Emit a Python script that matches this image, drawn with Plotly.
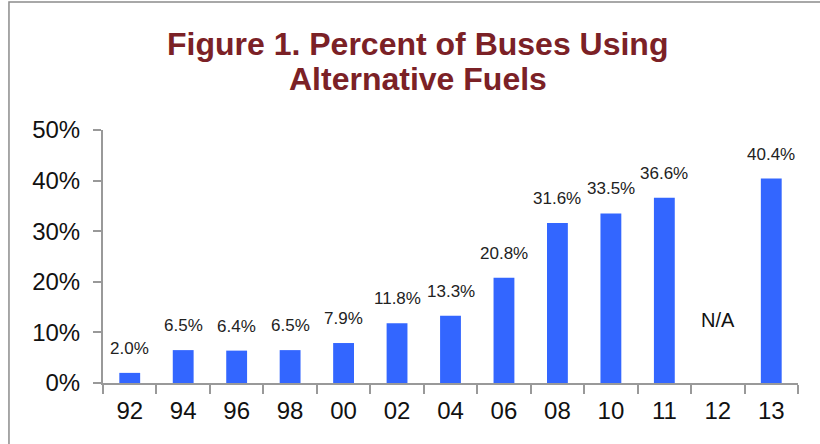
import plotly.graph_objects as go

years = ["92", "94", "96", "98", "00", "02", "04", "06", "08", "10", "11", "12", "13"]
pct = [2.0, 6.5, 6.4, 6.5, 7.9, 11.8, 13.3, 20.8, 31.6, 33.5, 36.6, None, 40.4]
missing_year = "12"
missing_label = "N/A"
missing_pos = 12.45
title_lines = ["Figure 1. Percent of Buses Using", "Alternative Fuels"]

fig = go.Figure()
fig.add_trace(go.Bar(x=years, y=pct, width=0.39,
                     marker=dict(color="#3366FF", line=dict(width=0))))

# value labels above bars (category index, so "00" etc. aren't read as numbers)
for i, v in enumerate(pct):
    if v is None:
        continue
    fig.add_annotation(x=i, y=v, text=f"{v:.1f}%", showarrow=False, yanchor="bottom", yshift=13,
                       font=dict(family="Liberation Sans Narrow, Liberation Sans, Arial Narrow, sans-serif",
                                 size=17, color="#222222"))

fig.add_annotation(x=years.index(missing_year), y=missing_pos, text=missing_label, showarrow=False,
                   font=dict(family="Liberation Sans, Arial", size=20, color="#111111"))

# title, two lines placed separately for tighter spacing
for line, ypos in zip(title_lines, [1.34, 1.2]):
    fig.add_annotation(xref="paper", yref="paper", x=0.453, y=ypos, text=f"<b>{line}</b>",
                       showarrow=False, xanchor="center", yanchor="middle",
                       font=dict(family="Liberation Sans, Arial", size=32, color="#7B2126"))

# outer frame
fig.add_shape(type="rect", xref="paper", yref="paper", x0=-0.1353, x1=1.1, y0=-0.3, y1=1.506,
              line=dict(color="#8c8c8c", width=1.5))

fig.update_layout(
    width=820, height=444,
    margin=dict(l=103, r=22, t=130, b=61),
    paper_bgcolor="white", plot_bgcolor="white",
    showlegend=False,
)
fig.update_xaxes(type="category", range=[-0.5, len(years) - 0.5], showline=True,
                 linecolor="#999999", linewidth=2,
                 ticks="outside", tickson="boundaries", ticklen=9, tickcolor="#999999", tickwidth=1.5,
                 tickangle=0, ticklabelstandoff=5,
                 tickfont=dict(family="Liberation Sans, Arial", size=24, color="#111111"),
                 showgrid=False)
fig.update_yaxes(range=[0, 50], dtick=10, ticksuffix="%", showline=True, linecolor="#999999",
                 linewidth=2, ticks="outside", ticklen=8, tickcolor="#999999", tickwidth=1.5,
                 showgrid=False, zeroline=False, ticklabelstandoff=8,
                 tickfont=dict(family="Liberation Sans, Arial", size=24, color="#111111"))

fig.write_html("out.html", config={"displayModeBar": False},
               post_script="document.body.style.margin='0';")
